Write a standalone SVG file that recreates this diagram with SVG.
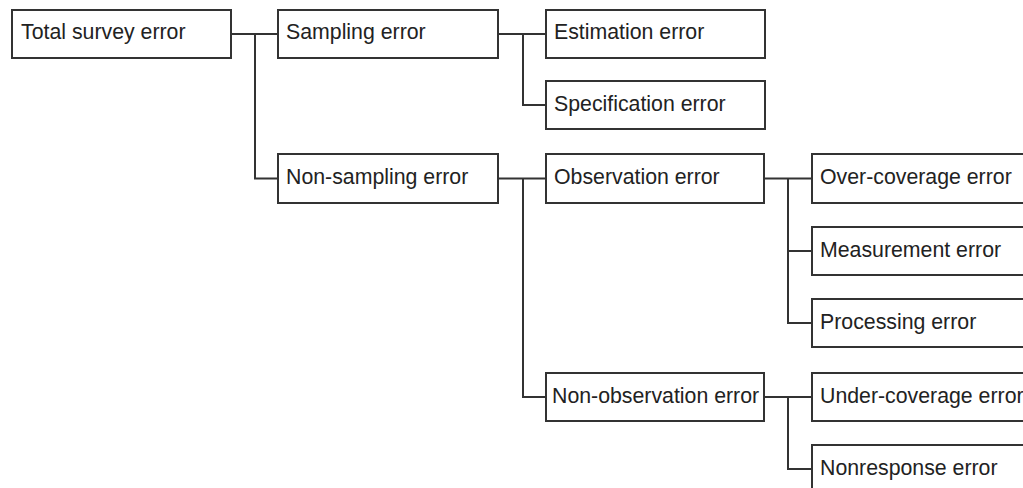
<svg xmlns="http://www.w3.org/2000/svg" width="1023" height="488" viewBox="0 0 1023 488">
  <style>
    .box rect { fill: #ffffff; stroke: #333333; stroke-width: 2; }
    .box text { font-family: "Liberation Sans", Arial, sans-serif; font-size: 21.3px; fill: #222222; }
    .links path { fill: none; stroke: #333333; stroke-width: 2; }
  </style>
  <rect width="1023" height="488" fill="#ffffff"/>

  <!-- tree connectors -->
  <g class="links">
    <path d="M231 34 H278 M255 34 V178.5 H278"/>
    <path d="M498 34 H546 M523 34 V105 H546"/>
    <path d="M498 178.5 H546 M523 178.5 V397 H546"/>
    <path d="M764 178.5 H812 M788 178.5 V323 H812 M788 251 H812"/>
    <path d="M764 397 H812 M788 397 V469 H812"/>
  </g>

  <g id="total" class="box"><rect x="12" y="10" width="219" height="48"/><text x="21" y="39">Total survey error</text></g>
  <g id="sampling" class="box"><rect x="278" y="10" width="220" height="48"/><text x="286" y="39">Sampling error</text></g>
  <g id="nonsampling" class="box"><rect x="278" y="154" width="220" height="49"/><text x="286" y="184">Non-sampling error</text></g>
  <g id="estimation" class="box"><rect x="546" y="10" width="219" height="48"/><text x="554" y="39">Estimation error</text></g>
  <g id="specification" class="box"><rect x="546" y="81" width="219" height="48"/><text x="554" y="111">Specification error</text></g>
  <g id="observation" class="box"><rect x="546" y="154" width="218" height="49"/><text x="554" y="184">Observation error</text></g>
  <g id="nonobservation" class="box"><rect x="546" y="373" width="218" height="48"/><text x="552" y="403">Non-observation error</text></g>
  <g id="overcoverage" class="box"><rect x="812" y="154" width="219" height="49"/><text x="820" y="184">Over-coverage error</text></g>
  <g id="measurement" class="box"><rect x="812" y="227" width="219" height="48"/><text x="820" y="257">Measurement error</text></g>
  <g id="processing" class="box"><rect x="812" y="299" width="219" height="48"/><text x="820" y="329">Processing error</text></g>
  <g id="undercoverage" class="box"><rect x="812" y="373" width="219" height="48"/><text x="820" y="403">Under-coverage error</text></g>
  <g id="nonresponse" class="box"><rect x="812" y="445" width="219" height="48"/><text x="820" y="475">Nonresponse error</text></g>
</svg>
